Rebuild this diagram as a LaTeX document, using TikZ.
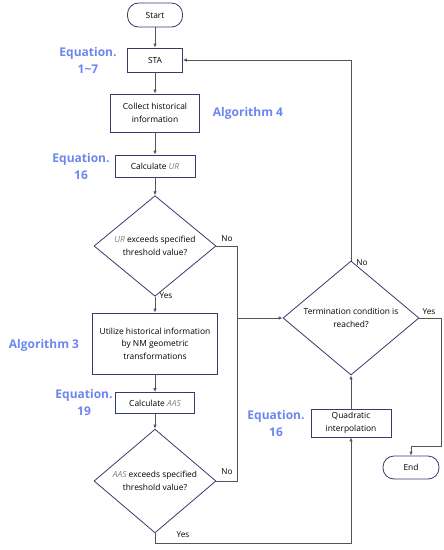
\documentclass[tikz,border=0pt]{standalone}
\usepackage{fontspec}
\setmainfont{Open Sans}
\usetikzlibrary{shapes.geometric,arrows.meta}
\definecolor{bc}{RGB}{50,60,110}
\definecolor{lc}{RGB}{85,85,85}
\definecolor{blu}{RGB}{108,134,240}
\newcommand{\gi}[1]{{\color{gray}\itshape #1}}
\begin{document}
\begin{tikzpicture}[x=1pt,y=-1pt,
 box/.style={draw=bc,line width=0.8pt,fill=white,inner sep=0pt,align=center,font=\fontsize{8.4}{12.5}\selectfont},
 termbox/.style={box,rounded corners=11pt},
 dia/.style={draw=bc,line width=0.8pt,diamond,inner sep=0pt,align=center,font=\fontsize{8.4}{13}\selectfont},
 lbl/.style={font=\fontsize{8.2}{9}\selectfont,inner sep=0pt},
 eq/.style={text=blu,font=\bfseries\fontsize{12}{17}\selectfont,align=center,inner sep=0pt},
 ar/.style={draw=lc,line width=0.8pt,-{Latex[length=4pt,width=3.5pt]}},
 ln/.style={draw=lc,line width=0.8pt}]
\useasboundingbox (0,0) rectangle (444,550);
\node[termbox,minimum width=55pt,minimum height=24pt] (start) at (155,15) {Start};
\node[box,minimum width=55pt,minimum height=24pt] (sta) at (155,60) {STA};
\node[box,minimum width=89pt,minimum height=38pt] (collect) at (155,113) {Collect historical\\information};
\node[box,minimum width=80pt,minimum height=22pt] (calcur) at (155,166) {Calculate \gi{UR}};
\node[dia,minimum width=122pt,minimum height=82pt] (dur) at (155,246) {\gi{UR} exceeds specified\\threshold value?};
\node[box,minimum width=125pt,minimum height=61pt] (util) at (155,343.5) {Utilize historical information\\by NM geometric\\transformations};
\node[box,minimum width=79pt,minimum height=21pt] (calcaas) at (155,403) {Calculate \gi{AAS}};
\node[dia,minimum width=122pt,minimum height=82pt] (daas) at (155,481) {\gi{AAS} exceeds specified\\threshold value?};
\node[dia,minimum width=136pt,minimum height=90pt] (term) at (351,318) {Termination condition is\\reached?};
\node[box,minimum width=80pt,minimum height=28pt] (quad) at (351,423) {Quadratic\\interpolation};
\node[termbox,minimum width=56pt,minimum height=23pt] (end) at (411,467.5) {End};

\coordinate (ja) at (237,318);
\coordinate (jb) at (237,481);
\coordinate (yb) at (155,543);
\coordinate (ye) at (441,318);
\coordinate (yf) at (441,446);

\draw[ar] (start) -- (sta);
\draw[ar] (sta) -- (collect);
\draw[ar] (collect) -- (calcur);
\draw[ar] (calcur) -- (dur.north);
\draw[ar] (dur.south) -- (util);
\draw[ar] (util) -- (calcaas);
\draw[ar] (calcaas) -- (daas.north);
\draw[ln] (dur.east) -| (jb) -- (daas.east);
\draw[ar] (ja) -- (term.west);
\draw[ar] (daas.south) -- (yb) -| (quad.south);
\draw[ar] (quad) -- (term.south);
\draw[ar] (term.north) |- (sta.east);
\draw[ar] (term.east) -- (ye) -- (yf) -| (end.north);

\node[lbl] (no1) at (227,239) {No};
\node[lbl] (no2) at (227,472) {No};
\node[lbl] (no3) at (362,263) {No};
\node[lbl] (yes1) at (166,296) {Yes};
\node[lbl] (yes2) at (183,535) {Yes};
\node[lbl] (yes3) at (429,312) {Yes};

\node[eq] (e1) at (88,60.5) {Equation.\\1\textasciitilde7};
\node[eq] (a4) at (248,113) {Algorithm 4};
\node[eq] (e2) at (81,166.5) {Equation.\\16};
\node[eq] (a3) at (44,345) {Algorithm 3};
\node[eq] (e3) at (84,402.5) {Equation.\\19};
\node[eq] (e4) at (276,423.5) {Equation.\\16};
\end{tikzpicture}
\end{document}
